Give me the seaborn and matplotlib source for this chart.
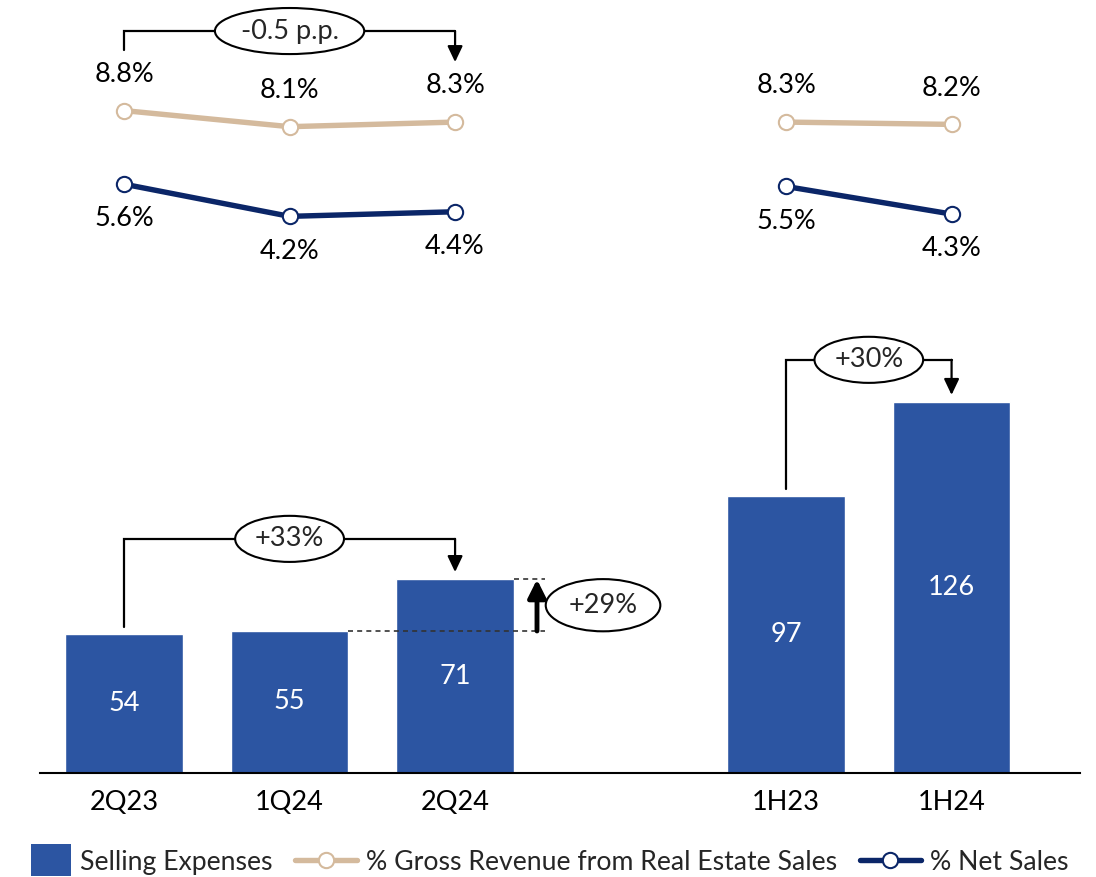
import matplotlib
matplotlib.use("Agg")
import matplotlib.pyplot as plt
import seaborn as sns
import pandas as pd
from matplotlib.lines import Line2D
from matplotlib.patches import Patch, Rectangle
from matplotlib.legend_handler import HandlerPatch

# ---- data ---------------------------------------------------------------
periods = ["2Q23", "1Q24", "2Q24", "1H23", "1H24"]
period_group = ["quarter", "quarter", "quarter", "half", "half"]
selling_expenses = [54, 55, 71, 97, 126]
pct_gross_revenue = [8.8, 8.1, 8.3, 8.3, 8.2]
pct_net_sales = [5.6, 4.2, 4.4, 5.5, 4.3]
slot_order = ["2Q23", "1Q24", "2Q24", "", "1H23", "1H24"]

series_names = ["Selling Expenses", "% Gross Revenue from Real Estate Sales", "% Net Sales"]

BAR = "#2C55A2"
TAN = "#D4BA9D"
NAVY = "#0B2668"

sns.set_theme(style="white")
plt.rcParams["font.family"] = ["Lato", "DejaVu Sans"]

df = pd.DataFrame({
    "period": periods,
    "group": period_group,
    "selling": selling_expenses,
    "gross": pct_gross_revenue,
    "net": pct_net_sales,
})
df["pos"] = [slot_order.index(p) for p in periods]

fig = plt.figure(figsize=(10.96, 8.77), dpi=100)
ax_bar = fig.add_axes([0.0365, 0.1186, 0.9489, 0.5394])
ax_line = fig.add_axes([0.0365, 0.658, 0.9489, 0.342])

XLIM = (-0.508, 5.776)
FS = 19.5

# ---- bars ---------------------------------------------------------------
sns.barplot(data=df, x="period", y="selling", order=slot_order, color=BAR,
            saturation=1, width=0.71, ax=ax_bar)
Y0 = 10.9
ax_bar.set_xlim(*XLIM)
ax_bar.set_ylim(Y0, 157.8)
ax_bar.set_xlabel("")
ax_bar.set_ylabel("")
ax_bar.set_yticks([])
for s in ["left", "right", "top"]:
    ax_bar.spines[s].set_visible(False)
ax_bar.spines["bottom"].set_color("black")
ax_bar.spines["bottom"].set_linewidth(1.5)
ax_bar.tick_params(axis="x", length=0, pad=12, labelsize=FS, labelcolor="black")

for pos, v in zip(df["pos"], df["selling"]):
    ax_bar.text(pos, (Y0 + v) / 2, f"{v}", ha="center", va="center",
                color="white", fontsize=FS)

# ---- lines --------------------------------------------------------------
for g in ["quarter", "half"]:
    sub = df[df["group"] == g]
    for col, colr in [("gross", TAN), ("net", NAVY)]:
        sns.lineplot(data=sub, x="pos", y=col, ax=ax_line, color=colr,
                     linewidth=3.9, marker="o", markersize=11,
                     markerfacecolor="white", markeredgecolor=colr,
                     markeredgewidth=1.5, legend=False)

for pos, v in zip(df["pos"], df["gross"]):
    ax_line.annotate(f"{v:.1f}%", (pos, v), xytext=(0, 26), textcoords="offset points",
                     ha="center", va="center", fontsize=FS, color="black")
for pos, v in zip(df["pos"], df["net"]):
    ax_line.annotate(f"{v:.1f}%", (pos, v), xytext=(0, -25), textcoords="offset points",
                     ha="center", va="center", fontsize=FS, color="black")

ax_line.set_xlim(*XLIM)
ax_line.set_ylim(0.565, 13.61)
ax_line.axis("off")

# ---- change brackets ----------------------------------------------------
ELL = dict(boxstyle="ellipse,pad=0.14", fc="white", ec="black", lw=1.5)


def bracket(ax, x0, x1, y_start, y_top, y_tip, label, fs=FS):
    ax.plot([x0, x0, x1], [y_start, y_top, y_top], color="black", lw=1.6,
            solid_joinstyle="miter", zorder=5)
    ax.annotate("", xy=(x1, y_tip), xytext=(x1, y_top + 0.0001),
                arrowprops=dict(arrowstyle="-|>,head_length=0.8,head_width=0.38",
                                color="black", lw=1.6, shrinkA=0, shrinkB=0),
                zorder=5)
    ax.text((x0 + x1) / 2, y_top, label, ha="center", va="center", fontsize=fs,
            bbox=ELL, zorder=6)


bracket(ax_line, 0, 2, 11.43, 12.26, 10.91, "-0.5 p.p.")
bracket(ax_bar, 0, 2, selling_expenses[0] + 2.2, 83.6, selling_expenses[2] + 2.3, "+33%")
bracket(ax_bar, 4, 5, selling_expenses[3] + 2.2, 139.2, selling_expenses[4] + 2.3, "+30%")

# quarter-over-quarter step
x_arrow = 2.495
ax_bar.plot([1.355, 2.544], [selling_expenses[1]] * 2, color="#333333", lw=1.2,
            ls=(0, (3, 2.5)), zorder=4)
ax_bar.plot([2.355, 2.544], [selling_expenses[2]] * 2, color="#333333", lw=1.2,
            ls=(0, (3, 2.5)), zorder=4)
ax_bar.annotate("", xy=(x_arrow, selling_expenses[2]), xytext=(x_arrow, selling_expenses[1]),
                arrowprops=dict(arrowstyle="-|>,head_length=0.9,head_width=0.45",
                                color="black", lw=3.5, shrinkA=0, shrinkB=0), zorder=5)
ax_bar.text(2.894, (selling_expenses[1] + selling_expenses[2]) / 2, "+29%",
            ha="center", va="center", fontsize=FS,
            bbox=dict(boxstyle="ellipse,pad=0.22", fc="white", ec="black", lw=1.5), zorder=6)

# ---- legend -------------------------------------------------------------
def square_patch(legend, orig_handle, xdescent, ydescent, width, height, fontsize):
    w, h = 28.8, 23.0
    return Rectangle((-xdescent + width - w, -ydescent + height / 2 - h / 2), w, h)


handles = [
    Patch(facecolor=BAR, edgecolor="none"),
    Line2D([], [], color=TAN, lw=3.9, marker="o", ms=11, mfc="white", mec=TAN, mew=1.5),
    Line2D([], [], color=NAVY, lw=3.9, marker="o", ms=11, mfc="white", mec=NAVY, mew=1.5),
]
fig.legend(handles, series_names, loc="center", bbox_to_anchor=(0.492, 0.017),
           ncol=3, frameon=False, fontsize=19.2, handlelength=2.3,
           handletextpad=0.35, columnspacing=0.85, borderpad=0, borderaxespad=0,
           handler_map={Patch: HandlerPatch(patch_func=square_patch)})

fig.savefig("out.png", dpi=100)
